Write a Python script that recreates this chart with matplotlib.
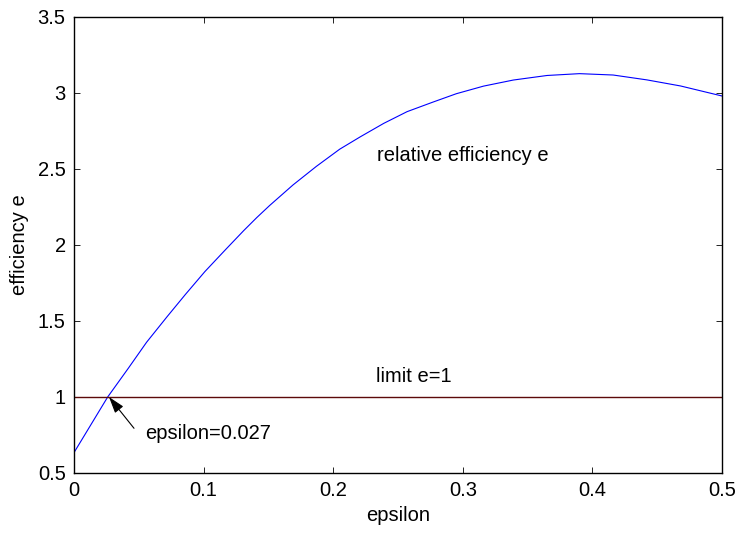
import matplotlib.pyplot as plt

plt.rcParams["font.family"] = ["Liberation Sans", "DejaVu Sans"]
plt.rcParams["font.size"] = 14.5

# values
epsilon = [0.0, 0.026, 0.042, 0.056, 0.072, 0.086, 0.101, 0.117, 0.131,
           0.141, 0.151, 0.169, 0.187, 0.205, 0.221, 0.239, 0.257, 0.277,
           0.295, 0.316, 0.339, 0.365, 0.390, 0.416, 0.442, 0.468, 0.5]
efficiency = [0.634, 1.0, 1.19, 1.36, 1.53, 1.675, 1.825, 1.97, 2.095,
              2.18, 2.26, 2.395, 2.517, 2.63, 2.712, 2.80, 2.877, 2.94,
              2.995, 3.045, 3.085, 3.115, 3.127, 3.118, 3.086, 3.046, 2.98]
limit_x = [0.0, 0.5]
limit_y = [1.0, 1.0]
crossing = (0.027, 1.0)

x_ticks = [0, 0.1, 0.2, 0.3, 0.4, 0.5]
x_tick_labels = ["0", "0.1", "0.2", "0.3", "0.4", "0.5"]
y_ticks = [0.5, 1, 1.5, 2, 2.5, 3, 3.5]
y_tick_labels = ["0.5", "1", "1.5", "2", "2.5", "3", "3.5"]

fig = plt.figure(figsize=(7.4, 5.33), dpi=100)
ax = fig.add_axes([0.1, 0.1126, 0.8757, 0.8556])

ax.plot(epsilon, efficiency, color="#0000ff", lw=0.8)
ax.plot(limit_x, limit_y, color="#5c0a0a", lw=1.0)

ax.text(0.2335, 2.59, "relative efficiency e", va="center", ha="left")
ax.text(0.233, 1.138, "limit e=1", va="center", ha="left")
ax.text(0.0548, 0.76, "epsilon=0.027", va="center", ha="left")
ax.annotate("", xy=crossing, xytext=(0.0463, 0.794),
            arrowprops=dict(arrowstyle="-|>,head_length=0.5,head_width=0.16",
                            color="k", lw=0.8, mutation_scale=20,
                            shrinkA=0, shrinkB=0))

ax.set_xlim(0, 0.5)
ax.set_ylim(0.5, 3.5)
ax.set_xticks(x_ticks)
ax.set_xticklabels(x_tick_labels)
ax.set_yticks(y_ticks)
ax.set_yticklabels(y_tick_labels)
ax.tick_params(direction="in", length=4.5, width=0.6, top=True, right=True,
               pad=6)
for spine in ax.spines.values():
    spine.set_linewidth(1.0)

ax.set_xlabel("epsilon", labelpad=4)
ax.set_ylabel("efficiency e", labelpad=6)

fig.savefig("out.png", dpi=100)
